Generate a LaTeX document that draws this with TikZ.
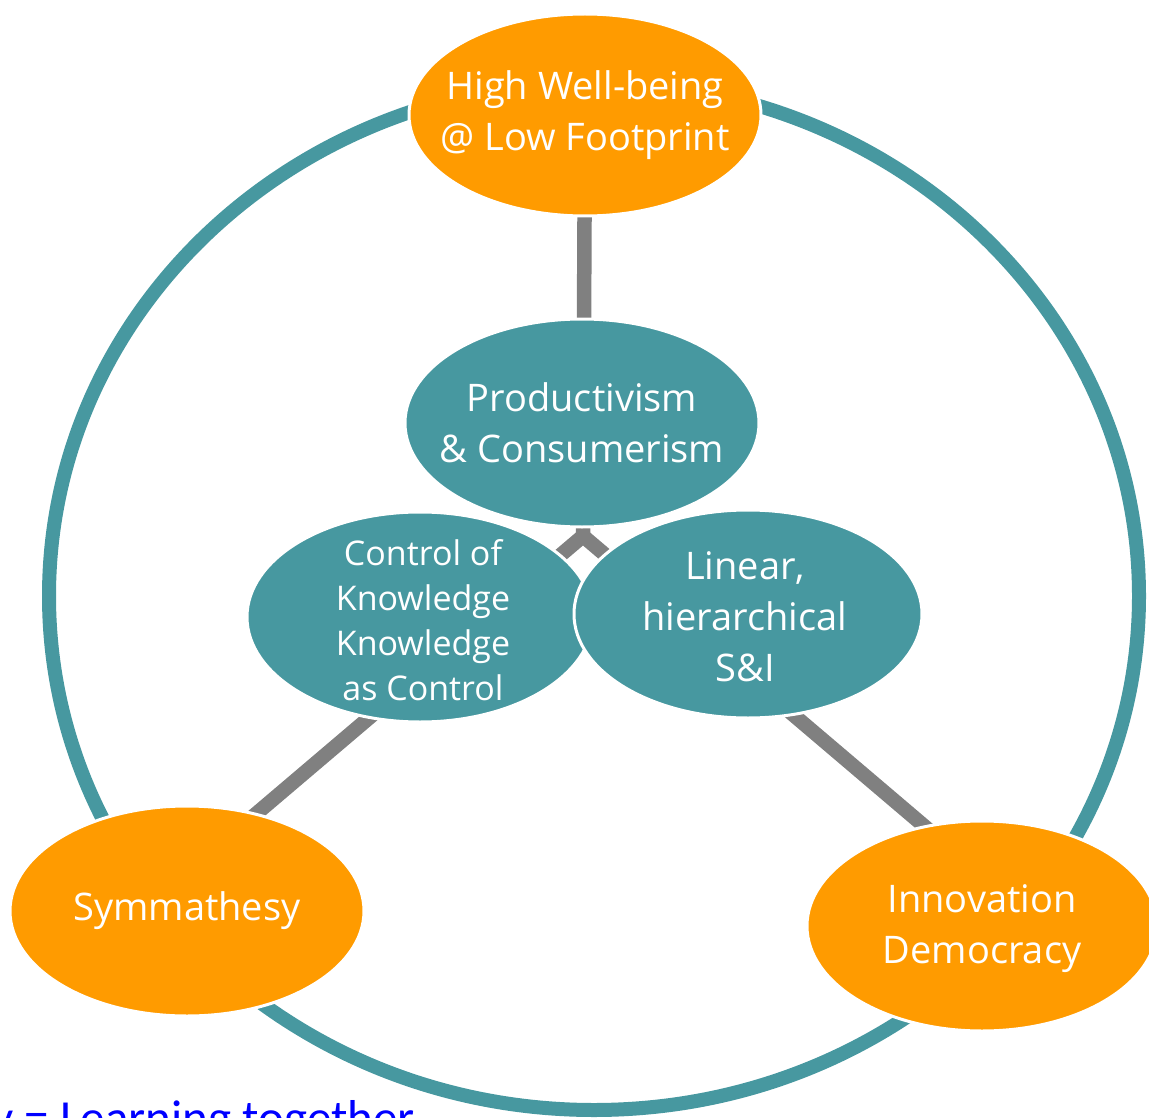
\documentclass[tikz,border=0pt]{standalone}
\usepackage{fontspec}
\setmainfont{Open Sans}
\newfontfamily\calib{Carlito}
\usetikzlibrary{shapes.geometric}
\definecolor{orng}{RGB}{255,155,0}
\definecolor{tealc}{RGB}{71,152,160}
\definecolor{greyl}{RGB}{128,128,128}
\definecolor{bluet}{RGB}{0,0,255}
\tikzset{
  bubble/.style={ellipse, draw=white, line width=3pt, inner sep=0pt},
  orangebubble/.style={bubble, fill=orng},
  tealbubble/.style={bubble, fill=tealc},
  btext/.style={align=center, text=white, inner sep=0pt},
  link/.style={draw=greyl, line width=14.5pt},
  ring/.style={draw=tealc, line width=14pt},
  bigfont/.style={font=\fontsize{38}{51}\selectfont},
  smallfont/.style={font=\fontsize{34}{45}\selectfont}
}
\begin{document}
\begin{tikzpicture}[x=1pt,y=-1pt]
\useasboundingbox (0,0) rectangle (1149,1118);
% outer ring
\draw[ring] (594,596) ellipse [x radius=545, y radius=514];
% junction and connectors
\coordinate (J) at (583,536);
\coordinate (topc) at (585,115);
\coordinate (symc) at (230,836);
\coordinate (innc) at (950,848);
\draw[link] (topc) -- (J);
\draw[link] (J) -- (symc);
\draw[link] (J) -- (innc);
% bubbles
\node[orangebubble, minimum width=352pt, minimum height=202pt,
  label={[btext, bigfont, name=toptxt]center:High Well-being\\@ Low Footprint}] (top) at (585,115) {};
\node[tealbubble, minimum width=354pt, minimum height=208pt,
  label={[btext, bigfont, name=prodtxt]center:Productivism\\\& Consumerism}] (prod) at (582,423) {};
\node[tealbubble, minimum width=346pt, minimum height=210pt,
  label={[btext, smallfont, name=ctrltxt, yshift=-3pt, xshift=3pt]center:Control of\\Knowledge\\Knowledge\\as Control}] (ctrl) at (420,617) {};
\node[tealbubble, minimum width=348pt, minimum height=208pt,
  label={[btext, bigfont, name=lintxt, xshift=-3pt, yshift=-3pt]center:Linear,\\hierarchical\\S\&I}] (lin) at (748,614) {};
\node[orangebubble, minimum width=354pt, minimum height=210pt,
  label={[btext, bigfont, name=symtxt]center:Symmathesy}] (sym) at (187,911) {};
\node[orangebubble, minimum width=350pt, minimum height=210pt,
  label={[btext, bigfont, name=inntxt, yshift=-3pt]center:Innovation\\Democracy}] (inn) at (982,926) {};
% caption
\node[anchor=base east, inner sep=0pt, text=bluet, font=\calib\fontsize{49}{58}\selectfont] (cap) at (415,1134) {Symmathesy = Learning together};
\end{tikzpicture}
\end{document}
